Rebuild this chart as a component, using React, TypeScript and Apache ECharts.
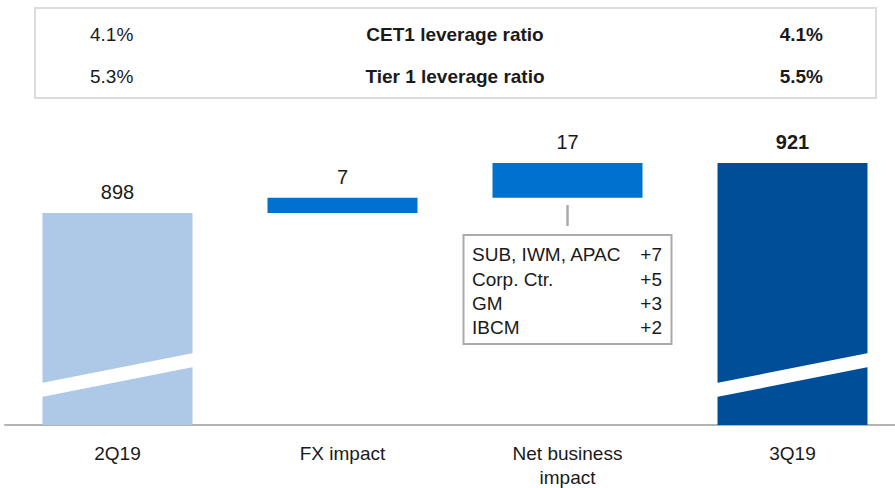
import React, { useEffect, useRef } from "react";
import * as echarts from "echarts";

// ---- Data ----
const categories = ["2Q19", "FX impact", "Net business\nimpact", "3Q19"];
const values = [898, 7, 17, 921];
const isTotal = [true, false, false, true];

const ratioNames = ["CET1 leverage ratio", "Tier 1 leverage ratio"];
const ratioPrev = ["4.1%", "5.3%"];
const ratioCurr = ["4.1%", "5.5%"];

const breakdownNames = ["SUB, IWM, APAC", "Corp. Ctr.", "GM", "IBCM"];
const breakdownValues = ["+7", "+5", "+3", "+2"];

const Y_MIN = 800;
const Y_MAX = 940;

// ---- Style ----
const FONT = "'Liberation Sans', Arial, Helvetica, sans-serif";
const TEXT = "#1a1a1a";
const BAR_COLORS = ["#aec8e8", "#0071ce", "#0071ce", "#004e97"];
const BAR_W = 150;

export default function App() {
  const ref = useRef<HTMLDivElement>(null);

  useEffect(() => {
    if (!ref.current) return;
    const chart = echarts.init(ref.current, undefined, { renderer: "svg" });

    // waterfall ranges built from the values
    let running = 0;
    const seriesData = values.map((v, i) => {
      let start: number, end: number;
      if (isTotal[i]) {
        start = Y_MIN;
        end = v;
        running = v;
      } else {
        start = running;
        end = Math.min(running + v, values[values.length - 1]);
        running = end;
      }
      return [i, start, end, v];
    });

    const graphic: any[] = [];
    // top ratio box
    graphic.push({
      type: "rect",
      shape: { x: 35, y: 8, width: 841, height: 90 },
      style: { fill: "none", stroke: "#dcdcdc", lineWidth: 2 },
      silent: true,
    });
    const rowY = [34, 76];
    ratioNames.forEach((name, r) => {
      graphic.push({
        type: "text",
        style: {
          text: ratioPrev[r], x: 90, y: rowY[r], textAlign: "left", textVerticalAlign: "middle",
          fontSize: 19, fontFamily: FONT, fill: TEXT,
        },
      });
      graphic.push({
        type: "text",
        style: {
          text: name, x: 455, y: rowY[r], textAlign: "center", textVerticalAlign: "middle",
          fontSize: 19, fontWeight: "bold", fontFamily: FONT, fill: TEXT,
        },
      });
      graphic.push({
        type: "text",
        style: {
          text: ratioCurr[r], x: 823, y: rowY[r], textAlign: "right", textVerticalAlign: "middle",
          fontSize: 19, fontWeight: "bold", fontFamily: FONT, fill: TEXT,
        },
      });
    });

    // breakdown annotation
    graphic.push({
      type: "line",
      shape: { x1: 567.5, y1: 205, x2: 567.5, y2: 226 },
      style: { stroke: "#aaaaaa", lineWidth: 2.5 },
    });
    graphic.push({
      type: "rect",
      shape: { x: 463.5, y: 235, width: 208, height: 109 },
      style: { fill: "#fff", stroke: "#aaaaaa", lineWidth: 2 },
    });
    const lineY = [254, 279, 303, 327];
    breakdownNames.forEach((n, k) => {
      graphic.push({
        type: "text",
        style: {
          text: n, x: 472, y: lineY[k], textAlign: "left", textVerticalAlign: "middle",
          fontSize: 19, fontFamily: FONT, fill: TEXT,
        },
      });
      graphic.push({
        type: "text",
        style: {
          text: breakdownValues[k], x: 662, y: lineY[k], textAlign: "right", textVerticalAlign: "middle",
          fontSize: 19, fontFamily: FONT, fill: TEXT,
        },
      });
    });

    chart.setOption({
      animation: false,
      grid: {
        left: 5, right: -10, top: 122, bottom: 63,
        containLabel: false, outerBoundsMode: "none",
      },
      xAxis: {
        type: "category",
        data: categories,
        axisLine: { show: true, lineStyle: { color: "#b3b3b3", width: 2 } },
        axisTick: { show: false },
        axisLabel: {
          fontSize: 19, fontFamily: FONT, color: TEXT, margin: 16, lineHeight: 24,
          interval: 0,
        },
      },
      yAxis: {
        type: "value",
        min: Y_MIN,
        max: Y_MAX,
        show: false,
        splitLine: { show: false },
      },
      graphic,
      series: [
        {
          type: "custom",
          data: seriesData,
          encode: { x: 0, y: [1, 2] },
          renderItem: (params: any, api: any) => {
            const i = api.value(0);
            const start = api.value(1);
            const end = api.value(2);
            const v = api.value(3);
            const top = api.coord([i, end]);
            const bot = api.coord([i, start]);
            const x = top[0] - BAR_W / 2;
            const children: any[] = [
              {
                type: "rect",
                shape: { x, y: top[1], width: BAR_W, height: bot[1] - top[1] },
                style: { fill: BAR_COLORS[i] },
              },
            ];
            if (isTotal[i]) {
              const b = bot[1];
              children.push({
                type: "polygon",
                shape: {
                  points: [
                    [x - 1, b - 28],
                    [x - 1, b - 42],
                    [x + BAR_W + 1, b - 72],
                    [x + BAR_W + 1, b - 58],
                  ],
                },
                style: { fill: "#ffffff" },
              });
            }
            children.push({
              type: "text",
              style: {
                text: String(v),
                x: top[0],
                y: top[1] - 21,
                textAlign: "center",
                textVerticalAlign: "middle",
                fontSize: 20,
                fontWeight: i === values.length - 1 ? "bold" : "normal",
                fontFamily: FONT,
                fill: TEXT,
              },
            });
            return { type: "group", children };
          },
        },
      ],
    });

    return () => chart.dispose();
  }, []);

  return (
    <div
      ref={ref}
      style={{ position: "absolute", left: 0, top: 0, width: 895, height: 488 }}
    />
  );
}
